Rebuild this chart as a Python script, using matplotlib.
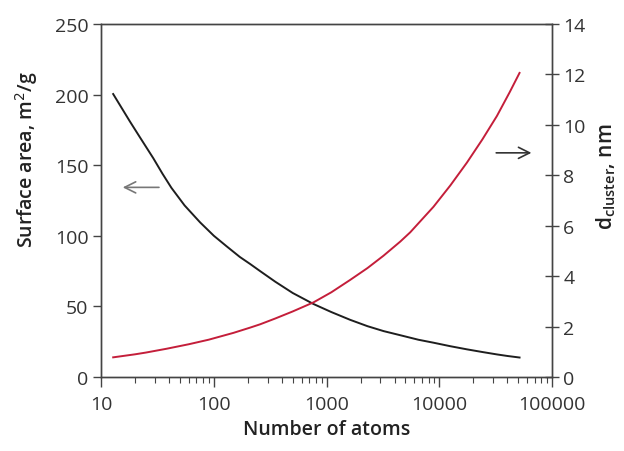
import matplotlib
matplotlib.use("Agg")
import matplotlib.pyplot as plt
from matplotlib.ticker import LogLocator, FixedLocator, NullFormatter, FixedFormatter

plt.rcParams['font.family'] = ['Open Sans', 'DejaVu Sans']

# Surface area curve (left axis)
n_sa = [12.8, 18, 22, 29, 35, 42, 55, 75.5, 100, 130, 170, 210, 257, 350, 500, 764,
        1100, 1615, 2300, 3200, 4490, 6500, 8850, 12500, 17500, 24000, 32300, 40000, 51300]
surface_area = [200.4, 181, 170, 155, 144, 134, 121.5, 109.5, 100, 92.5, 85, 80, 75, 67.5, 59.5, 51.7,
                46, 40.5, 36, 32.5, 29.6, 26.4, 24.3, 21.8, 19.6, 17.7, 16.0, 14.9, 13.8]

# Cluster diameter curve (right axis)
n_d = [12.8, 20, 25, 38, 60, 90, 149, 210, 257, 350, 500, 764, 1100, 1615, 2300, 3190,
       4490, 5510, 8850, 12500, 17500, 24000, 32300, 42000, 51300]
d_cluster = [0.78, 0.9, 0.97, 1.12, 1.3, 1.48, 1.75, 1.96, 2.09, 2.32, 2.6, 2.96, 3.36, 3.85, 4.32, 4.81,
             5.37, 5.74, 6.75, 7.6, 8.5, 9.42, 10.35, 11.3, 12.06]

x_ticks = [10, 100, 1000, 10000, 100000]
x_ticklabels = ['10', '100', '1000', '10000', '100000']
left_ticks = [0, 50, 100, 150, 200, 250]
right_ticks = [0, 2, 4, 6, 8, 10, 12, 14]

fig = plt.figure(figsize=(6.24, 4.52), dpi=100)
ax = fig.add_axes([0.162, 0.1637, 0.723, 0.781])
ax2 = ax.twinx()

spine_c = '#444444'
text_c = '#333333'

ax.plot(n_sa, surface_area, color='#1e1e1e', lw=1.4)
ax2.plot(n_d, d_cluster, color='#c41e3a', lw=1.4)

ax.set_xscale('log')
ax.set_xlim(10, 100000)
ax.set_ylim(0, 250)
ax2.set_ylim(0, 14)

ax.xaxis.set_major_locator(FixedLocator(x_ticks))
ax.xaxis.set_major_formatter(FixedFormatter(x_ticklabels))
ax.xaxis.set_minor_locator(LogLocator(base=10, subs=range(2, 10)))
ax.xaxis.set_minor_formatter(NullFormatter())
ax.set_yticks(left_ticks)
ax2.set_yticks(right_ticks)

for a in (ax, ax2):
    for s in a.spines.values():
        s.set_color(spine_c)
        s.set_linewidth(1.0)

ax.tick_params(axis='x', which='major', direction='out', length=7, width=1, colors=spine_c,
               labelcolor=text_c, labelsize=14, pad=6)
ax.tick_params(axis='x', which='minor', direction='out', length=4, width=0.8, colors=spine_c)
ax.tick_params(axis='y', direction='out', length=6, width=1, colors=spine_c,
               labelcolor=text_c, labelsize=14, pad=3)
ax2.tick_params(axis='y', direction='inout', length=10, width=1, colors=spine_c,
                labelcolor=text_c, labelsize=14, pad=3)

ax.set_xlabel('Number of atoms', fontsize=14, color='#222222', fontweight='semibold', labelpad=4)
fig.text(0.042, 0.646, 'Surface area, m$^2$/g', rotation=90, ha='center', va='center',
         fontsize=14, color='#222222', fontweight='semibold')
fig.text(0.972, 0.61, r'd$_\mathregular{cluster}$, nm', rotation=90, ha='center', va='center',
         fontsize=15, color='#222222', fontweight='semibold')

# Arrows indicating axes
ax.annotate('', xy=(14.7, 134.3), xytext=(34.5, 134.3),
            arrowprops=dict(arrowstyle='->,head_length=0.8,head_width=0.4', color='#777777', lw=1.2))
ax2.annotate('', xy=(69200, 8.89), xytext=(30100, 8.89),
             arrowprops=dict(arrowstyle='->,head_length=0.8,head_width=0.4', color='#333333', lw=1.2))

fig.savefig('out.png', dpi=100)
